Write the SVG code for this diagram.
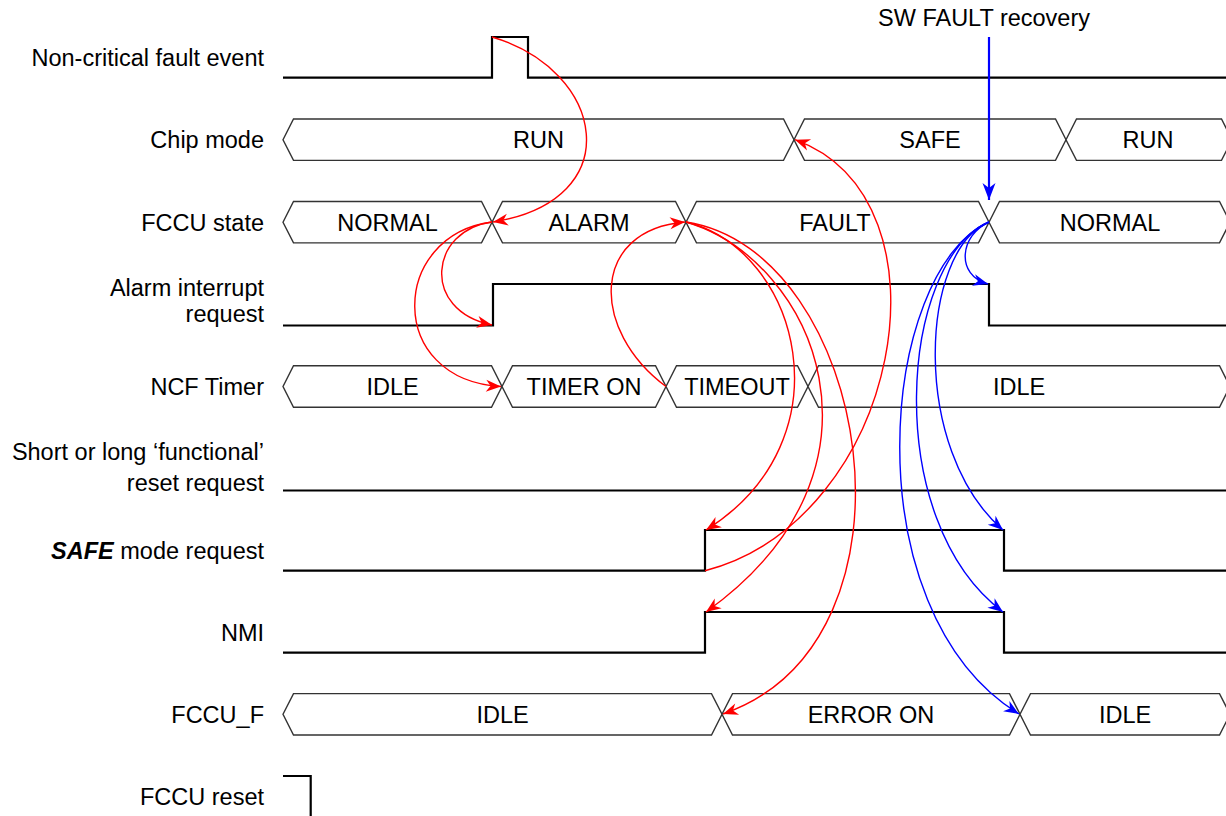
<svg xmlns="http://www.w3.org/2000/svg" width="1226" height="816" viewBox="0 0 1226 816">
<style>
  .lbl { font-family: "Liberation Sans", Arial, sans-serif; font-size: 23.5px; fill: #000; text-anchor: end; }
  .bt { font-family: "Liberation Sans", Arial, sans-serif; font-size: 23.5px; fill: #000; text-anchor: middle; }
  .bus { fill: #fff; stroke: #333; stroke-width: 1.4; stroke-linejoin: miter; }
  .sig { fill: none; stroke: #000; stroke-width: 2.2; stroke-linejoin: miter; }
  .red { fill: none; stroke: #ff0000; stroke-width: 1.4; marker-end: url(#ar); }
  .blue { fill: none; stroke: #0000ff; stroke-width: 1.4; marker-end: url(#ab); }
</style>
<defs>
  <marker id="ar" viewBox="-17 -8 19 16" refX="0" refY="0" markerWidth="19" markerHeight="16" markerUnits="userSpaceOnUse" orient="auto">
    <path d="M0,0 L-15,-6 L-10.5,0 L-15,6 Z" fill="#ff0000"/>
  </marker>
  <marker id="ab" viewBox="-17 -8 19 16" refX="0" refY="0" markerWidth="19" markerHeight="16" markerUnits="userSpaceOnUse" orient="auto">
    <path d="M0,0 L-15,-6 L-10.5,0 L-15,6 Z" fill="#0000ff"/>
  </marker>
  <marker id="abig" viewBox="-19 -8 21 16" refX="0" refY="0" markerWidth="21" markerHeight="16" markerUnits="userSpaceOnUse" orient="auto">
    <path d="M0,0 L-17,-6.5 L-12,0 L-17,6.5 Z" fill="#0000ff"/>
  </marker>
</defs>
<rect width="1226" height="816" fill="#fff"/>

<g id="row-fault-event">
  <text class="lbl" x="264" y="66">Non-critical fault event</text>
  <path class="sig" d="M283,77.7 H492 V37 H528 V77.7 H1232"/>
</g>

<g id="row-chip-mode">
  <text class="lbl" x="264" y="148">Chip mode</text>
  <polygon class="bus" points="283,139.7 293.5,119 783.5,119 794,139.7 783.5,160.4 293.5,160.4"/>
  <polygon class="bus" points="794,139.7 804.5,119 1055.5,119 1066,139.7 1055.5,160.4 804.5,160.4"/>
  <polygon class="bus" points="1066,139.7 1076.5,119 1221.5,119 1232,139.7 1221.5,160.4 1076.5,160.4"/>
  <text class="bt" x="538.5" y="148">RUN</text>
  <text class="bt" x="930" y="148">SAFE</text>
  <text class="bt" x="1148" y="148">RUN</text>
</g>

<g id="row-fccu-state">
  <text class="lbl" x="264" y="230.5">FCCU state</text>
  <polygon class="bus" points="283,222.2 293.5,201.5 481.5,201.5 492,222.2 481.5,242.9 293.5,242.9"/>
  <polygon class="bus" points="492,222.2 502.5,201.5 675.5,201.5 686,222.2 675.5,242.9 502.5,242.9"/>
  <polygon class="bus" points="686,222.2 696.5,201.5 978.5,201.5 989,222.2 978.5,242.9 696.5,242.9"/>
  <polygon class="bus" points="989,222.2 999.5,201.5 1219.5,201.5 1230,222.2 1219.5,242.9 999.5,242.9"/>
  <text class="bt" x="387.5" y="230.5">NORMAL</text>
  <text class="bt" x="589" y="230.5">ALARM</text>
  <text class="bt" x="835" y="230.5">FAULT</text>
  <text class="bt" x="1110" y="230.5">NORMAL</text>
</g>

<g id="row-alarm-irq">
  <text class="lbl" x="264" y="295.5">Alarm interrupt</text>
  <text class="lbl" x="264" y="321.5">request</text>
  <path class="sig" d="M283,325.5 H493 V284 H989 V325.5 H1232"/>
</g>

<g id="row-ncf-timer">
  <text class="lbl" x="264" y="395">NCF Timer</text>
  <polygon class="bus" points="283,386.5 293.5,365.8 491.5,365.8 502,386.5 491.5,407.2 293.5,407.2"/>
  <polygon class="bus" points="502,386.5 512.5,365.8 655.5,365.8 666,386.5 655.5,407.2 512.5,407.2"/>
  <polygon class="bus" points="666,386.5 676.5,365.8 797.5,365.8 808,386.5 797.5,407.2 676.5,407.2"/>
  <polygon class="bus" points="808,386.5 818.5,365.8 1219.5,365.8 1230,386.5 1219.5,407.2 818.5,407.2"/>
  <text class="bt" x="392.5" y="395">IDLE</text>
  <text class="bt" x="584" y="395">TIMER ON</text>
  <text class="bt" x="737" y="395">TIMEOUT</text>
  <text class="bt" x="1019" y="395">IDLE</text>
</g>

<g id="row-functional-reset">
  <text class="lbl" x="264" y="459.5">Short or long ‘functional’</text>
  <text class="lbl" x="264" y="490.5">reset request</text>
  <path class="sig" d="M283,490.5 H1232"/>
</g>

<g id="row-safe-request">
  <text class="lbl" x="264" y="558.8"><tspan font-weight="bold" font-style="italic">SAFE</tspan> mode request</text>
  <path class="sig" d="M283,570.7 H705 V530 H1004 V570.7 H1232"/>
</g>

<g id="row-nmi">
  <text class="lbl" x="264" y="640.8">NMI</text>
  <path class="sig" d="M283,652.7 H705 V612 H1004 V652.7 H1232"/>
</g>

<g id="row-fccu-f">
  <text class="lbl" x="264" y="722.6">FCCU_F</text>
  <polygon class="bus" points="283,714.3 293.5,693.6 711.5,693.6 722,714.3 711.5,735 293.5,735"/>
  <polygon class="bus" points="722,714.3 732.5,693.6 1009.5,693.6 1020,714.3 1009.5,735 732.5,735"/>
  <polygon class="bus" points="1020,714.3 1030.5,693.6 1219.5,693.6 1230,714.3 1219.5,735 1030.5,735"/>
  <text class="bt" x="502.5" y="722.6">IDLE</text>
  <text class="bt" x="871" y="722.6">ERROR ON</text>
  <text class="bt" x="1125" y="722.6">IDLE</text>
</g>

<g id="row-fccu-reset">
  <text class="lbl" x="264" y="805">FCCU reset</text>
  <path class="sig" d="M283,776 H310.7 V820"/>
</g>

<g id="sw-fault-recovery">
  <text class="lbl" x="1090" y="26">SW FAULT recovery</text>
</g>

<g id="connectors">
  <path class="red" d="M492,37 C605,70 630,200 493,222"/>
  <path class="red" d="M492,222 C430,230 420,310 492,325"/>
  <path class="red" d="M492,222 C390,235 385,380 501,386.5"/>
  <path class="red" d="M666,386.5 C590,330 590,230 685,222"/>
  <path class="red" d="M705,570.7 C900,520 960,200 795,139.7"/>
  <path class="red" d="M686,222 C800,250 850,440 706,530"/>
  <path class="red" d="M686,222 C815,260 905,470 706,612"/>
  <path class="red" d="M686,222 C870,250 935,640 723,714"/>
  <path d="M989,37 V200" fill="none" stroke="#0000ff" stroke-width="2.2" marker-end="url(#abig)"/>
  <path class="blue" d="M989,222 C960,235 955,275 988,284"/>
  <path class="blue" d="M989,222 C920,250 910,450 1003,530"/>
  <path class="blue" d="M989,222 C900,260 880,520 1003,612"/>
  <path class="blue" d="M989,222 C880,270 850,610 1019,714"/>
</g>
</svg>
